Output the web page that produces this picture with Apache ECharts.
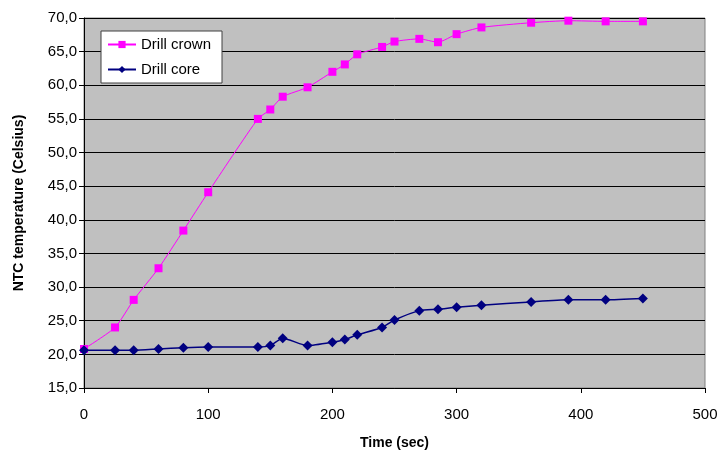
<!DOCTYPE html>
<html>
<head>
<meta charset="utf-8">
<script src="https://cdn.jsdelivr.net/npm/echarts@6/dist/echarts.min.js"></script>
<style>
  html, body { margin: 0; padding: 0; background: #ffffff; }
  #chart { width: 720px; height: 453px; }
</style>
</head>
<body>
<div id="chart"></div>
<script>
// Sampling times (seconds)
const crownTimes = [0, 25, 40, 60, 80, 100, 140, 150, 160, 180, 200, 210, 220, 240, 250, 270, 285, 300, 320, 360, 390, 420, 450];
const coreTimes  = [0, 25, 40, 60, 80, 100, 140, 150, 160, 180, 200, 210, 220, 240, 250, 270, 285, 300, 320, 360, 390, 420, 450];

// NTC temperatures (Celsius)
const crownTemps = [20.8, 24.0, 28.1, 32.8, 38.4, 44.1, 55.0, 56.4, 58.3, 59.7, 62.0, 63.1, 64.6, 65.7, 66.5, 66.9, 66.4, 67.6, 68.6, 69.3, 69.6, 69.5, 69.5];
const coreTemps  = [20.6, 20.6, 20.6, 20.8, 21.0, 21.1, 21.1, 21.3, 22.4, 21.3, 21.8, 22.2, 22.9, 24.0, 25.1, 26.5, 26.7, 27.0, 27.3, 27.8, 28.1, 28.1, 28.3];

const seriesNames = ['Drill crown', 'Drill core'];
const xTitle = 'Time (sec)';
const yTitle = 'NTC temperature (Celsius)';

const pair = (xs, ys) => xs.map((x, i) => [x, ys[i]]);

const chart = echarts.init(document.getElementById('chart'), null, { renderer: 'canvas' });

const font = 'Arial, "Liberation Sans", sans-serif';

chart.setOption({
  animation: false,
  backgroundColor: '#ffffff',
  grid: {
    left: 84, top: 18, right: 15, bottom: 65,
    containLabel: false,
    outerBoundsMode: 'none',
    show: true,
    backgroundColor: '#c0c0c0',
    borderColor: '#808080',
    borderWidth: 1
  },
  legend: {
    orient: 'vertical',
    left: 101, top: 31,
    backgroundColor: '#ffffff',
    borderColor: '#404040',
    borderWidth: 1,
    borderRadius: 0,
    padding: [6, 11, 6, 6],
    itemWidth: 28,
    itemHeight: 9,
    itemGap: 10,
    textStyle: { fontFamily: font, fontSize: 15, color: '#000000' },
    data: seriesNames
  },
  xAxis: {
    type: 'value',
    min: 0, max: 500, interval: 100,
    name: xTitle,
    nameLocation: 'middle',
    nameGap: 48,
    nameTextStyle: { fontFamily: font, fontSize: 14, fontWeight: 'bold', color: '#000' },
    axisLine: { show: true, onZero: false, lineStyle: { color: '#000', width: 1 } },
    axisTick: { show: true, inside: false, length: 5, lineStyle: { color: '#000' } },
    axisLabel: { fontFamily: font, fontSize: 15, color: '#000', margin: 19 },
    splitLine: { show: false }
  },
  yAxis: {
    type: 'value',
    min: 15, max: 70, interval: 5,
    name: yTitle,
    nameLocation: 'middle',
    nameGap: 58,
    nameRotate: 90,
    nameTextStyle: { fontFamily: font, fontSize: 14, fontWeight: 'bold', color: '#000' },
    axisLine: { show: true, onZero: false, lineStyle: { color: '#000', width: 1 } },
    axisTick: { show: true, inside: false, length: 5, lineStyle: { color: '#000' } },
    axisLabel: {
      fontFamily: font, fontSize: 15, color: '#000', margin: 7,
      formatter: v => v.toFixed(1).replace('.', ',')
    },
    splitLine: { show: true, lineStyle: { color: '#000000', width: 1 } }
  },
  series: [
    {
      name: seriesNames[0],
      type: 'line',
      data: pair(crownTimes, crownTemps),
      smooth: 0.2,
      symbol: 'rect',
      symbolSize: 8,
      color: '#ff00ff',
      lineStyle: { color: '#ff00ff', width: 1 },
      itemStyle: { color: '#ff00ff' },
      z: 3
    },
    {
      name: seriesNames[1],
      type: 'line',
      data: pair(coreTimes, coreTemps),
      smooth: 0.2,
      symbol: 'diamond',
      symbolSize: 10,
      color: '#000080',
      lineStyle: { color: '#000080', width: 1.5 },
      itemStyle: { color: '#000080' },
      z: 4
    }
  ]
});
</script>
</body>
</html>
